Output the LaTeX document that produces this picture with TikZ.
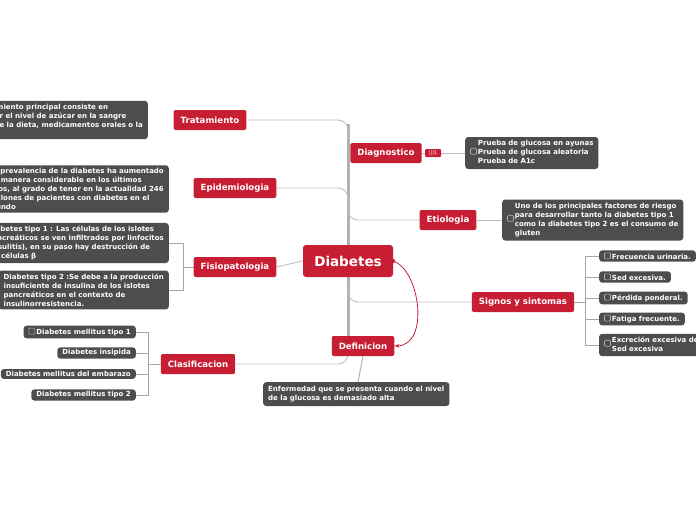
\documentclass[tikz,border=0pt]{standalone}
\usepackage{fontspec}
\setmainfont{DejaVu Sans}
\usetikzlibrary{arrows.meta,backgrounds}
\definecolor{mred}{RGB}{200,30,52}
\definecolor{mdark}{RGB}{77,77,77}
\definecolor{mline}{RGB}{190,190,190}
\newcommand{\cbx}{\tikz[baseline=-0.5pt]\draw[gray!60,line width=.6pt,rounded corners=1pt] (0,0) rectangle (6pt,6pt);\,}
\begin{document}
\begin{tikzpicture}[x=1pt,y=-1pt,
 topic/.style={fill=mred,text=white,font=\bfseries\fontsize{8.6}{10}\selectfont,rounded corners=2pt,minimum height=20pt,inner xsep=7pt},
 detail/.style={fill=mdark,text=white,font=\bfseries\fontsize{7}{9}\selectfont,rounded corners=3pt,align=left,inner xsep=5pt,inner ysep=3pt},
 leaf/.style={detail,inner ysep=2.2pt},
 conn/.style={draw=mline,line width=0.9pt,rounded corners=10pt},
 br/.style={draw=gray!70,line width=0.7pt}]
\useasboundingbox (0,0) rectangle (696,520);
\clip (0,0) rectangle (696,520);
% central
\node[fill=mred,text=white,font=\bfseries\fontsize{13.5}{15}\selectfont,rounded corners=3pt,minimum width=90pt,minimum height=32pt] (diab) at (348,261) {Diabetes};
% topics
\node[topic] (trat) at (210,120) {Tratamiento};
\node[topic] (epi) at (235,188) {Epidemiologia};
\node[topic] (fis) at (235,267) {Fisiopatologia};
\node[topic] (cla) at (198,364) {Clasificacion};
\node[topic] (dia) at (386,153) {Diagnostico};
\node[fill=mred,text=white,font=\fontsize{5}{5}\selectfont,rounded corners=1pt,minimum width=16pt,minimum height=8pt,inner sep=0pt] (badge) at (433,153) {|||1};
\node[topic] (eti) at (448,220) {Etiologia};
\node[topic] (sig) at (523,302) {Signos y sintomas};
\node[topic] (def) at (363,346) {Definicion};
% details
\node[detail,anchor=east] (dtrat) at (148,120) {El tratamiento principal consiste en\\controlar el nivel de azúcar en la sangre\\mediante la dieta, medicamentos orales o la\\insulina.};
\node[detail,anchor=east] (depi) at (169,189) {La prevalencia de la diabetes ha aumentado\\de manera considerable en los últimos\\años, al grado de tener en la actualidad 246\\millones de pacientes con diabetes en el\\mundo};
\node[detail,anchor=east] (df1) at (169,243) {Diabetes tipo 1 : Las células de los islotes\\pancreáticos se ven infiltrados por linfocitos\\(insulitis), en su paso hay destrucción de\\las células β};
\node[detail,anchor=east] (df2) at (169,290) {Diabetes tipo 2 :Se debe a la producción\\insuficiente de insulina de los islotes\\pancreáticos en el contexto de\\insulinorresistencia.};
\node[leaf,anchor=east] (c1) at (136,332) {\cbx Diabetes mellitus tipo 1};
\node[leaf,anchor=east] (c2) at (136,353) {Diabetes insipida};
\node[leaf,anchor=east] (c3) at (136,374) {Diabetes mellitus del embarazo};
\node[leaf,anchor=east] (c4) at (136,395) {Diabetes mellitus tipo 2};
\node[detail,anchor=west,inner ysep=2.5pt] (ddia) at (465,153) {\cbx\begin{tabular}{@{}l@{}}Prueba de glucosa en ayunas\\Prueba de glucosa aleatoria\\Prueba de A1c\end{tabular}};
\node[detail,anchor=west,inner ysep=2.5pt] (deti) at (502,220) {\cbx\begin{tabular}{@{}l@{}}Uno de los principales factores de riesgo\\para desarrollar tanto la diabetes tipo 1\\como la diabetes tipo 2 es el consumo de\\gluten\end{tabular}};
\node[leaf,anchor=west] (s1) at (599,256) {\cbx Frecuencia urinaria.};
\node[leaf,anchor=west] (s2) at (599,277) {\cbx Sed excesiva.};
\node[leaf,anchor=west] (s3) at (599,298) {\cbx Pérdida ponderal.};
\node[leaf,anchor=west] (s4) at (599,319) {\cbx Fatiga frecuente.};
\node[leaf,anchor=west] (s5) at (599,345) {\cbx\begin{tabular}{@{}l@{}}Excreción excesiva de\\Sed excesiva\end{tabular}};
\node[detail,anchor=north west,inner ysep=4pt] (ddef) at (263,382) {Enfermedad que se presenta cuando el nivel\\de la glucosa es demasiado alta};
\coordinate (ttop) at (348,124);
\coordinate (tbot) at (348,340);
\begin{scope}[on background layer]
\draw[line width=3pt,gray!60] (ttop) -- (tbot);
\draw[conn] (trat.east) -- (348,120) -- (348,140);
\draw[conn] (epi.east) -- (348,188) -- (348,205);
\draw[conn] (dia.west) -- (ttop |- dia.west);
\draw[conn] (348,210) -- (348,220) -- (eti.west);
\draw[conn] (348,285) -- (348,302) -- (sig.west);
\draw[conn] (fis.east) -- (diab.west);
\draw[conn] (cla.east) -- (348,364) -- (348,350);
\draw[draw=gray!60,line width=1pt] (def.south) -- (ddef.north -| 358,0);
\draw[draw=mline,line width=0.9pt] (dia.east) -- (badge.west);
\draw[draw=mline,line width=0.9pt] (badge.east) -- (ddia.west);
\draw[draw=mline,line width=0.9pt] (eti.east) -- (deti.west);
\end{scope}
% brackets
\draw[br] (fis.west) -- (183,267);
\draw[br] (df1.east) -- (183,243) -- (183,290) -- (df2.east);
\draw[br] (cla.west) -- (148,364);
\draw[br] (c1.east) -- (148,332) -- (148,395) -- (c4.east);
\draw[br] (c2.east) -- (148,353);
\draw[br] (c3.east) -- (148,374);
\draw[br] (sig.east) -- (585,302);
\draw[br] (s1.west) -- (585,256) -- (585,345) -- (s5.west);
\draw[br] (s2.west) -- (585,277);
\draw[br] (s3.west) -- (585,298);
\draw[br] (s4.west) -- (585,319);
% red relation
\fill[mred] (diab.east) circle (2pt);
\draw[mred,line width=0.8pt,-{Stealth[length=5pt]}] (diab.east) .. controls (420,270) and (430,345) .. (def.east);
\end{tikzpicture}
\end{document}
